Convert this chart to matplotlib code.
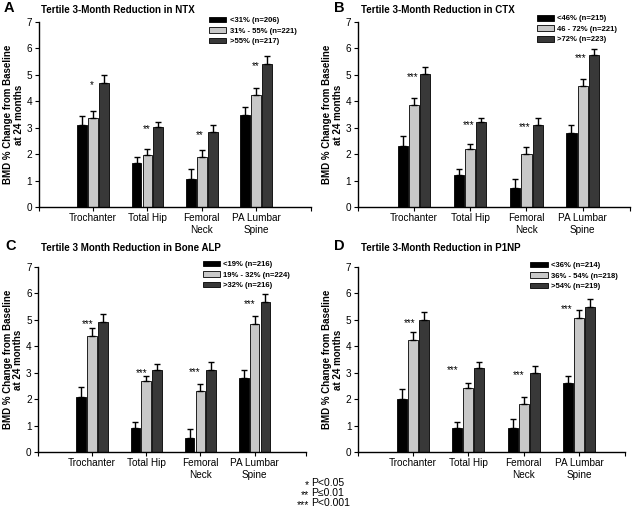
import matplotlib
matplotlib.use("Agg")
import matplotlib.pyplot as plt
import numpy as np

plt.rcParams['font.family'] = ['Liberation Sans', 'DejaVu Sans']

# ---- data ----
sites = ["Trochanter", "Total Hip", "Femoral\nNeck", "PA Lumbar\nSpine"]

# panel A: NTX
ntx_labels = ["<31% (n=206)", "31% - 55% (n=221)", ">55% (n=217)"]
ntx_low = [3.10, 1.65, 1.07, 3.48]
ntx_mid = [3.35, 1.97, 1.90, 4.22]
ntx_high = [4.70, 3.03, 2.82, 5.42]
ntx_low_err = [0.36, 0.25, 0.35, 0.32]
ntx_mid_err = [0.30, 0.23, 0.27, 0.28]
ntx_high_err = [0.30, 0.19, 0.28, 0.30]
ntx_stars = ["*", "**", "**", "**"]
ntx_star_dx = [-0.02, -0.02, -0.03, 0.0]

# panel B: CTX
ctx_labels = ["<46% (n=215)", "46 - 72% (n=221)", ">72% (n=223)"]
ctx_low = [2.30, 1.20, 0.73, 2.80]
ctx_mid = [3.85, 2.18, 2.02, 4.58]
ctx_high = [5.02, 3.20, 3.12, 5.75]
ctx_low_err = [0.40, 0.23, 0.34, 0.30]
ctx_mid_err = [0.28, 0.20, 0.25, 0.27]
ctx_high_err = [0.26, 0.17, 0.26, 0.24]
ctx_stars = ["***", "***", "***", "***"]
ctx_star_dx = [-0.03, -0.03, -0.03, -0.03]

# panel C: bone ALP
alp_labels = ["<19% (n=216)", "19% - 32% (n=224)", ">32% (n=216)"]
alp_low = [2.10, 0.91, 0.53, 2.80]
alp_mid = [4.38, 2.69, 2.31, 4.86]
alp_high = [4.92, 3.09, 3.11, 5.69]
alp_low_err = [0.36, 0.22, 0.34, 0.29]
alp_mid_err = [0.30, 0.20, 0.25, 0.30]
alp_high_err = [0.30, 0.23, 0.29, 0.29]
alp_stars = ["***", "***", "***", "***"]
alp_star_dx = [-0.09, -0.09, -0.11, -0.09]

# panel D: P1NP
p1np_labels = ["<36% (n=214)", "36% - 54% (n=218)", ">54% (n=219)"]
p1np_low = [2.00, 0.91, 0.91, 2.60]
p1np_mid = [4.22, 2.42, 1.82, 5.07]
p1np_high = [4.98, 3.18, 2.99, 5.49]
p1np_low_err = [0.38, 0.24, 0.35, 0.29]
p1np_mid_err = [0.31, 0.19, 0.27, 0.30]
p1np_high_err = [0.30, 0.21, 0.28, 0.31]
p1np_stars = ["***", "***", "***", "***"]
p1np_star_dx = [-0.06, -0.28, -0.085, -0.23]

bar_colors = ["#000000", "#c8c8c8", "#383838"]


def panel(ax, xmax, labels, means, errs, stars, star_dx, leg_x, leg_y):
    x = np.arange(1, len(sites) + 1)
    offsets = [-0.2, 0.0, 0.2]
    for k in range(3):
        ax.bar(x + offsets[k], means[k], width=0.18, color=bar_colors[k],
               edgecolor="black", linewidth=0.6, label=labels[k], zorder=2)
        ax.errorbar(x + offsets[k], means[k],
                    yerr=[np.zeros(len(x)), errs[k]], fmt="none",
                    ecolor="black", elinewidth=1.0, capsize=2.3,
                    capthick=1.0, zorder=3)
    # significance marks sit level with the top of the dark bar
    for i in range(len(x)):
        ax.annotate(stars[i], (x[i] + star_dx[i], means[2][i]),
                    xytext=(0, -4.0), textcoords="offset points",
                    ha="center", va="baseline", fontsize=7)
    ax.set_xlim(0, xmax)
    ax.set_ylim(0, 7)
    ax.set_xticks([0, 1, 2, 3, 4, xmax])
    ax.set_xticklabels([""] + sites + [""], fontsize=7.2)
    ax.set_yticks(range(8))
    ax.tick_params(axis="both", labelsize=7.2, length=3, width=0.8, pad=1.5)
    for s in ["top", "right"]:
        ax.spines[s].set_visible(False)
    for s in ["left", "bottom"]:
        ax.spines[s].set_linewidth(1.0)
    ax.set_ylabel("BMD % Change from Baseline\nat 24 months", fontsize=7,
                  fontweight="bold", labelpad=2, linespacing=1.1)
    ax.legend(loc="upper left", bbox_to_anchor=(leg_x, leg_y), frameon=False,
              handlelength=2.3, handleheight=0.8,
              labelspacing=0.38, handletextpad=0.4, borderpad=0.0,
              prop={"weight": "bold", "size": 5.5})


W, H = 640, 509
fig = plt.figure(figsize=(6.4, 5.09), dpi=100)


def px_axes(left, right, top, bottom):
    return fig.add_axes([left / W, 1 - bottom / H, (right - left) / W,
                         (bottom - top) / H])


axA = px_axes(38.6, 310.6, 22, 207)
axB = px_axes(357.6, 630, 22, 207)
axC = px_axes(38, 306, 267, 452)
axD = px_axes(357.7, 625, 267, 452)

panel(axA, 5.0, ntx_labels,
      [ntx_low, ntx_mid, ntx_high], [ntx_low_err, ntx_mid_err, ntx_high_err],
      ntx_stars, ntx_star_dx, 0.612, 1.05)
panel(axB, 4.84, ctx_labels,
      [ctx_low, ctx_mid, ctx_high], [ctx_low_err, ctx_mid_err, ctx_high_err],
      ctx_stars, ctx_star_dx, 0.644, 1.06)
panel(axC, 4.95, alp_labels,
      [alp_low, alp_mid, alp_high], [alp_low_err, alp_mid_err, alp_high_err],
      alp_stars, alp_star_dx, 0.60, 1.055)
panel(axD, 4.83, p1np_labels,
      [p1np_low, p1np_mid, p1np_high],
      [p1np_low_err, p1np_mid_err, p1np_high_err],
      p1np_stars, p1np_star_dx, 0.632, 1.05)

# panel letters and titles (pixel positions from the reference)
letters = ["A", "B", "C", "D"]
titles = ["Tertile 3-Month Reduction in NTX",
          "Tertile 3-Month Reduction in CTX",
          "Tertile 3 Month Reduction in Bone ALP",
          "Tertile 3-Month Reduction in P1NP"]
letter_xy = [(4, 8.5), (334, 8), (5, 246), (334, 246)]
title_xy = [(41, 10), (361, 10), (41, 248), (361, 248)]
for j in range(4):
    lx, ly = letter_xy[j]
    tx, ty = title_xy[j]
    fig.text(lx / W, 1 - ly / H, letters[j], fontsize=10.5,
             fontweight="bold", ha="left", va="center")
    fig.text(tx / W, 1 - ty / H, titles[j], fontsize=7,
             fontweight="bold", ha="left", va="center")

# significance footnote
foot_stars = ["*", "**", "***"]
foot_text = ["P<0.05", "P\u22640.01", "P<0.001"]
for j in range(3):
    yy = 1 - (483 + 10 * j) / H
    fig.text(309 / W, yy - 0.004, foot_stars[j], ha="right", va="center",
             fontsize=7.5)
    fig.text(311 / W, yy, foot_text[j], ha="left", va="center",
             fontsize=7.5)

fig.savefig("out.png", dpi=100)
